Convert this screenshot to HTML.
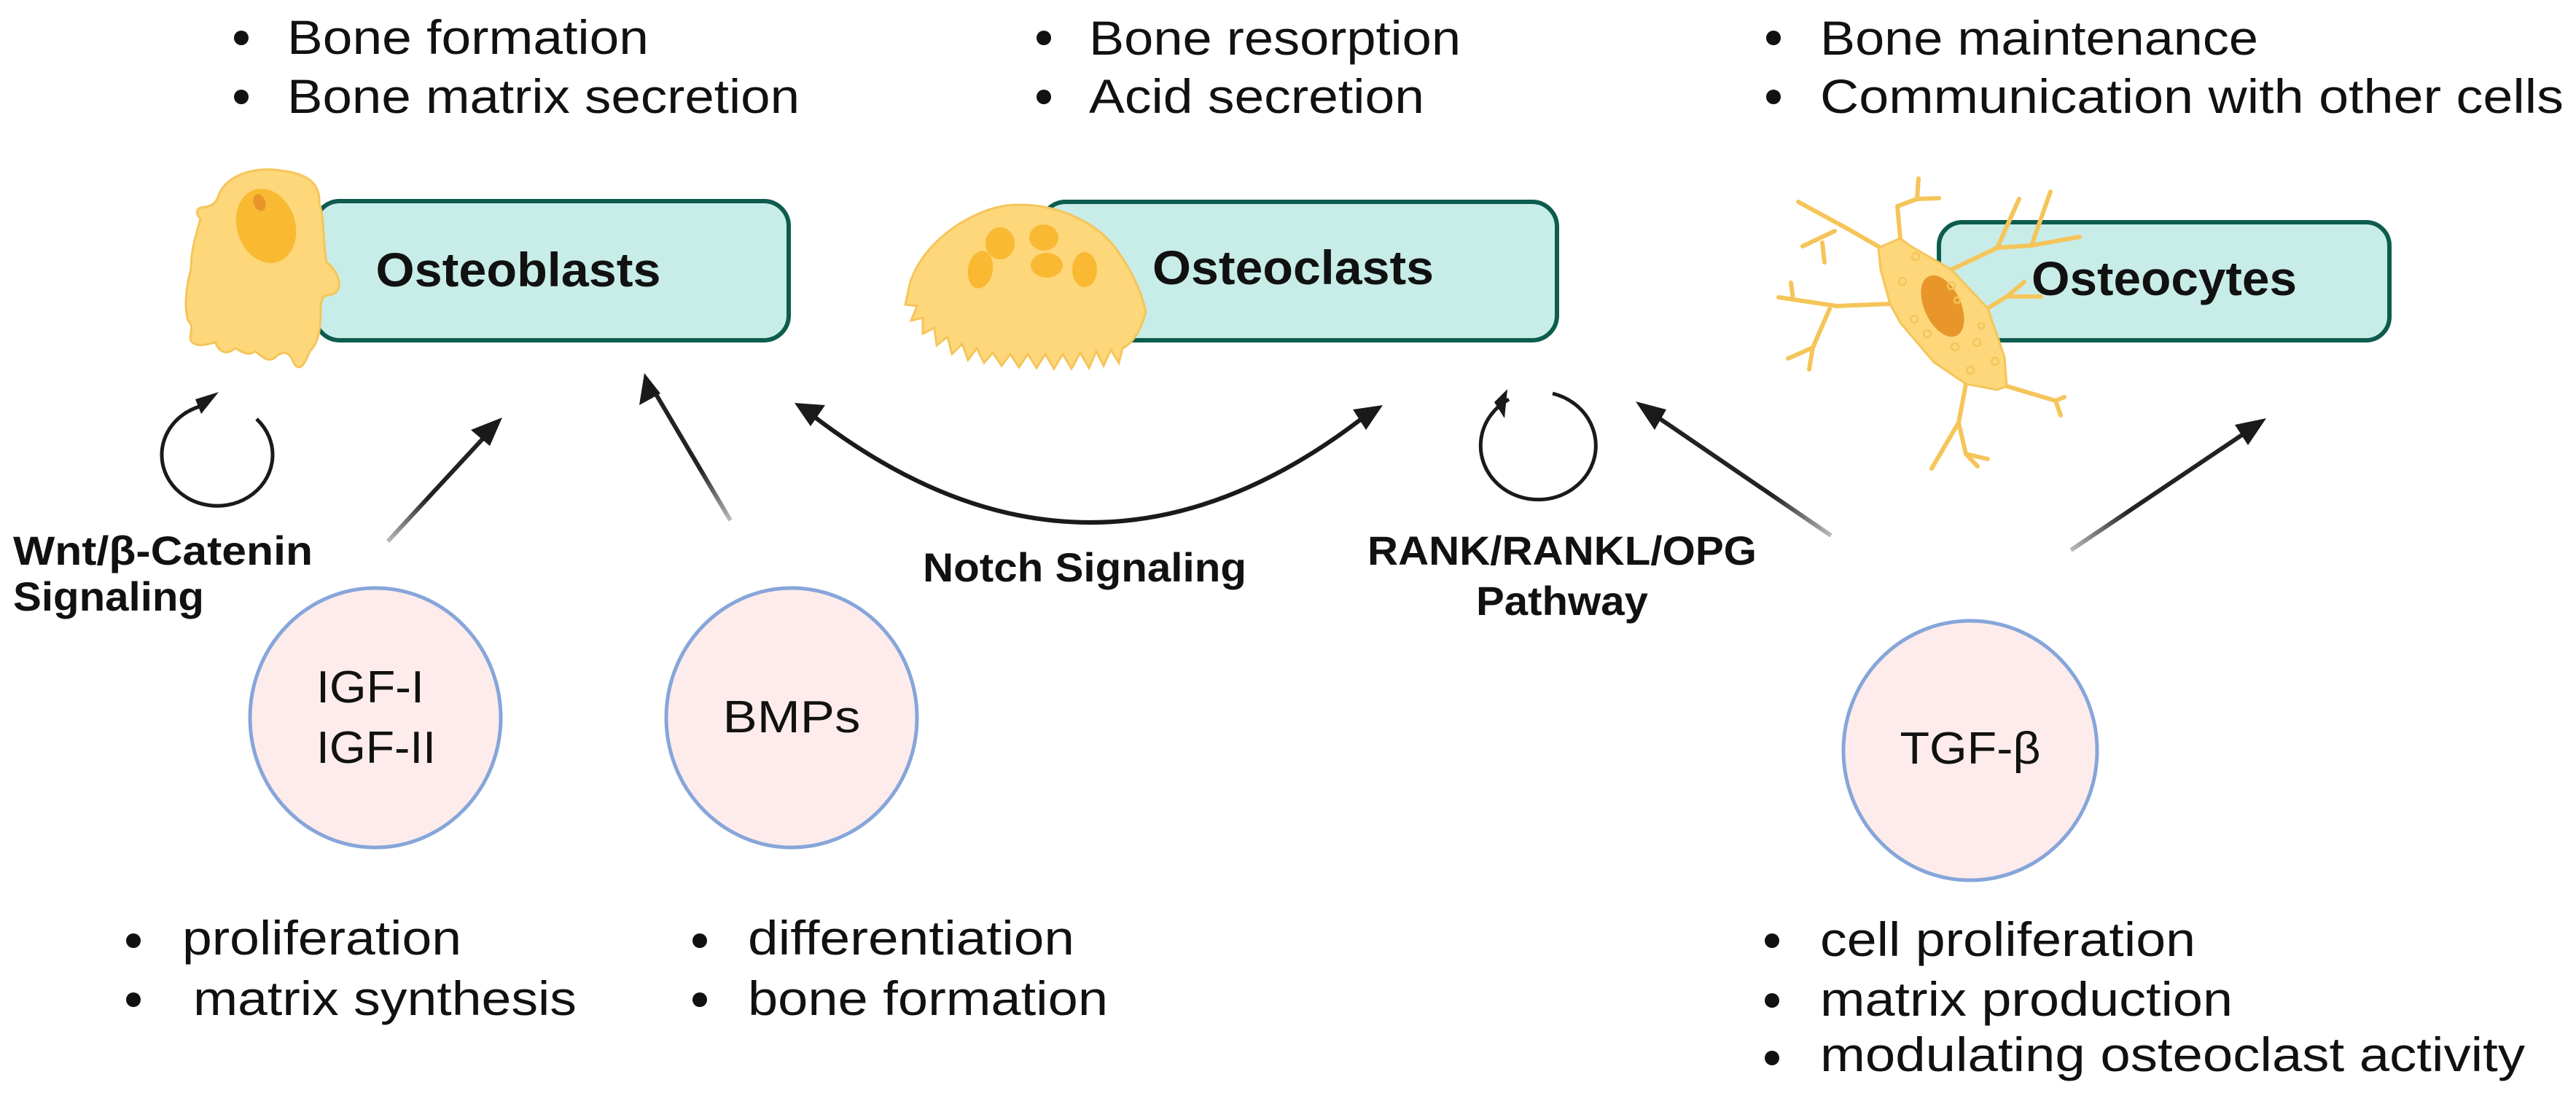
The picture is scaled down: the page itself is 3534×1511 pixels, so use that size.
<!DOCTYPE html>
<html><head><meta charset="utf-8"><style>
html,body{margin:0;padding:0;background:#fff;}
svg{display:block;}
text{font-family:"Liberation Sans",sans-serif;fill:#111;}
.b{font-weight:bold;}
</style></head><body>
<svg width="3534" height="1511" viewBox="0 0 3534 1511" xmlns="http://www.w3.org/2000/svg">
<defs>
<marker id="ah" markerWidth="8" markerHeight="8" refX="6" refY="4" orient="auto" markerUnits="strokeWidth"><path d="M0,0.5 L7,4 L0,7.5 z" fill="#1a1a1a"/></marker>
<linearGradient id="g1" gradientUnits="userSpaceOnUse" x1="532" y1="743" x2="689" y2="573"><stop offset="0" stop-color="#bbb"/><stop offset="0.35" stop-color="#222"/></linearGradient>
<linearGradient id="g2" gradientUnits="userSpaceOnUse" x1="1002" y1="714" x2="884" y2="512"><stop offset="0" stop-color="#bbb"/><stop offset="0.35" stop-color="#222"/></linearGradient>
<linearGradient id="g3" gradientUnits="userSpaceOnUse" x1="2512" y1="735" x2="2244" y2="551"><stop offset="0" stop-color="#bbb"/><stop offset="0.3" stop-color="#222"/></linearGradient>
<linearGradient id="g4" gradientUnits="userSpaceOnUse" x1="2841" y1="755" x2="3109" y2="574"><stop offset="0" stop-color="#bbb"/><stop offset="0.3" stop-color="#222"/></linearGradient>
</defs>

<!-- top bullets -->
<g font-size="66">
<circle cx="331" cy="52" r="10" fill="#111"/><text x="394" y="74" textLength="496" lengthAdjust="spacingAndGlyphs">Bone formation</text>
<circle cx="331" cy="133" r="10" fill="#111"/><text x="394" y="155" textLength="703" lengthAdjust="spacingAndGlyphs">Bone matrix secretion</text>
<circle cx="1432" cy="52" r="10" fill="#111"/><text x="1494" y="75" textLength="510" lengthAdjust="spacingAndGlyphs">Bone resorption</text>
<circle cx="1432" cy="133" r="10" fill="#111"/><text x="1494" y="155" textLength="460" lengthAdjust="spacingAndGlyphs">Acid secretion</text>
<circle cx="2433" cy="52" r="10" fill="#111"/><text x="2497" y="75" textLength="601" lengthAdjust="spacingAndGlyphs">Bone maintenance</text>
<circle cx="2433" cy="133" r="10" fill="#111"/><text x="2497" y="155" textLength="1020" lengthAdjust="spacingAndGlyphs">Communication with other cells</text>
</g>

<!-- boxes -->
<rect x="432" y="276" width="650" height="191" rx="34" fill="#c8ede8" stroke="#0d5c4e" stroke-width="6"/>
<rect x="1428" y="277" width="708" height="190" rx="34" fill="#c8ede8" stroke="#0d5c4e" stroke-width="6"/>
<rect x="2660" y="305" width="618" height="162" rx="32" fill="#c8ede8" stroke="#0d5c4e" stroke-width="6"/>

<!-- osteoblast cell -->
<g>
<path d="M300,268 C310,240 350,228 385,234 C420,238 440,250 438,280 C446,300 442,330 448,360 C462,370 472,392 460,402 C450,408 442,400 440,420 C440,450 438,470 425,482 C418,500 412,510 404,500 C398,485 392,480 380,488 C370,500 360,490 350,482 C340,490 332,482 322,478 C310,490 298,480 296,470 C285,472 270,478 262,468 C258,460 268,450 258,440 C252,420 256,390 262,370 C262,340 270,320 275,300 C268,294 268,284 282,284 C290,282 296,280 300,268 Z" fill="#fdd77a" stroke="#f5c55a" stroke-width="3"/>
<ellipse cx="365" cy="310" rx="40" ry="52" transform="rotate(-18 365 310)" fill="#f9b933"/>
<ellipse cx="356" cy="278" rx="8" ry="12" transform="rotate(-20 356 278)" fill="#e8962a"/>
</g>

<!-- osteoclast cell -->
<g>
<path d="M1248,390 C1262,340 1320,292 1380,282 C1440,276 1500,300 1530,340 C1552,370 1566,400 1572,428 C1566,450 1556,470 1540,478 L1535,498 L1524,480 L1514,502 L1504,482 L1494,505 L1482,484 L1470,506 L1458,486 L1446,506 L1434,486 L1422,505 L1410,486 L1398,504 L1386,486 L1374,502 L1362,484 L1350,498 L1340,478 L1328,494 L1320,472 L1306,486 L1300,462 L1285,474 L1282,450 L1266,458 L1266,436 L1250,440 L1258,420 L1242,418 Z" fill="#fdd77a" stroke="#f5c55a" stroke-width="3"/>
<ellipse cx="1345" cy="370" rx="17" ry="26" transform="rotate(10 1345 370)" fill="#f9b933"/>
<ellipse cx="1372" cy="334" rx="20" ry="22" fill="#f9b933"/>
<ellipse cx="1432" cy="326" rx="20" ry="18" fill="#f9b933"/>
<ellipse cx="1436" cy="364" rx="22" ry="17" fill="#f9b933"/>
<ellipse cx="1488" cy="370" rx="17" ry="24" fill="#f9b933"/>
</g>

<!-- osteocyte cell -->
<g fill="none" stroke="#f5c55a" stroke-width="6" stroke-linecap="round" stroke-linejoin="round">
<path d="M2580,340 L2533,313 L2467,277"/>
<path d="M2517,317 L2473,338"/><path d="M2500,333 L2503,360"/>
<path d="M2607,327 L2603,283 L2630,273 L2632,245"/><path d="M2630,273 L2660,272"/>
<path d="M2593,417 L2520,420 L2440,408"/><path d="M2457,388 L2460,410"/>
<path d="M2510,424 L2487,477 L2482,507"/><path d="M2487,477 L2453,492"/>
<path d="M2677,370 L2740,340 L2770,273"/><path d="M2740,340 L2787,337 L2853,325"/><path d="M2787,337 L2813,263"/>
<path d="M2727,423 L2753,407 L2777,387"/><path d="M2753,407 L2800,407"/>
<path d="M2697,527 L2687,580 L2650,643"/><path d="M2687,580 L2697,623 L2727,630"/><path d="M2697,623 L2713,640"/>
<path d="M2753,530 L2820,550 L2827,570"/><path d="M2820,550 L2832,545"/>
</g>
<path d="M2577,340 L2607,327 L2620,337 L2677,370 L2727,423 L2750,490 L2753,530 L2740,535 L2697,527 L2653,497 L2607,443 L2593,417 L2580,370 Z" fill="#fdd77a" stroke="#f5c55a" stroke-width="3"/>
<ellipse cx="2665" cy="420" rx="25" ry="45" transform="rotate(-25 2665 420)" fill="#e8962a"/>
<g fill="none" stroke="#f5c55a" stroke-width="2.5">
<circle cx="2628" cy="352" r="5"/><circle cx="2610" cy="386" r="5"/><circle cx="2677" cy="392" r="5"/><circle cx="2685" cy="412" r="4"/><circle cx="2626" cy="438" r="5"/><circle cx="2644" cy="458" r="5"/><circle cx="2682" cy="476" r="5"/><circle cx="2712" cy="470" r="5"/><circle cx="2737" cy="496" r="5"/><circle cx="2703" cy="508" r="5"/><circle cx="2718" cy="447" r="4"/>
</g>

<!-- box labels -->
<text class="b" x="711" y="393" font-size="66" text-anchor="middle" textLength="391" lengthAdjust="spacingAndGlyphs">Osteoblasts</text>
<text class="b" x="1774" y="390" font-size="66" text-anchor="middle" textLength="386" lengthAdjust="spacingAndGlyphs">Osteoclasts</text>
<text class="b" x="2969" y="405" font-size="66" text-anchor="middle" textLength="364" lengthAdjust="spacingAndGlyphs">Osteocytes</text>

<!-- loops -->
<path d="M352,575 A76,70 0 1 1 281,556" fill="none" stroke="#1a1a1a" stroke-width="5"/>
<path d="M268,548 L300,538 L276,568 Z" fill="#1a1a1a"/>
<path d="M2130,540 A79,74 0 1 1 2070,548" fill="none" stroke="#1a1a1a" stroke-width="5"/>
<path d="M2050,552 L2068,534 L2064,574 Z" fill="#1a1a1a"/>

<!-- straight arrows -->
<line x1="532" y1="743" x2="668" y2="596" stroke="url(#g1)" stroke-width="6"/>
<path d="M689,573 L646,590 L672,612 Z" fill="#1a1a1a"/>
<line x1="1002" y1="714" x2="897" y2="536" stroke="url(#g2)" stroke-width="6"/>
<path d="M884,512 L877,556 L906,540 Z" fill="#1a1a1a"/>
<line x1="2512" y1="735" x2="2266" y2="567" stroke="url(#g3)" stroke-width="6"/>
<path d="M2244,551 L2270,590 L2286,562 Z" fill="#1a1a1a"/>
<line x1="2841" y1="755" x2="3086" y2="590" stroke="url(#g4)" stroke-width="6"/>
<path d="M3109,574 L3066,583 L3084,611 Z" fill="#1a1a1a"/>

<!-- notch curve -->
<path d="M1112,568 Q1495,865 1874,570" fill="none" stroke="#1a1a1a" stroke-width="6"/>
<path d="M1090,553 L1132,556 L1112,585 Z" fill="#1a1a1a"/>
<path d="M1897,556 L1874,590 L1856,562 Z" fill="#1a1a1a"/>

<!-- pathway labels -->
<g class="b" font-size="56" font-weight="bold">
<text x="18" y="775" textLength="411" lengthAdjust="spacingAndGlyphs" font-weight="bold">Wnt/β-Catenin</text>
<text x="18" y="838" textLength="262" lengthAdjust="spacingAndGlyphs" font-weight="bold">Signaling</text>
<text x="1266" y="798" textLength="444" lengthAdjust="spacingAndGlyphs" font-weight="bold">Notch Signaling</text>
<text x="2143" y="775" text-anchor="middle" textLength="534" lengthAdjust="spacingAndGlyphs" font-weight="bold">RANK/RANKL/OPG</text>
<text x="2143" y="844" text-anchor="middle" textLength="236" lengthAdjust="spacingAndGlyphs" font-weight="bold">Pathway</text>
</g>

<!-- circles -->
<g fill="#fdeceb" stroke="#86a6da" stroke-width="5">
<ellipse cx="515" cy="985" rx="172" ry="178"/>
<ellipse cx="1086" cy="985" rx="172" ry="178"/>
<ellipse cx="2703" cy="1030" rx="174" ry="178"/>
</g>
<g font-size="62">
<text x="508" y="964" text-anchor="middle" textLength="148" lengthAdjust="spacingAndGlyphs">IGF-I</text>
<text x="516" y="1047" text-anchor="middle" textLength="164" lengthAdjust="spacingAndGlyphs">IGF-II</text>
<text x="1086" y="1005" text-anchor="middle" textLength="189" lengthAdjust="spacingAndGlyphs">BMPs</text>
<text x="2703" y="1048" text-anchor="middle" textLength="193" lengthAdjust="spacingAndGlyphs">TGF-β</text>
</g>

<!-- bottom bullets -->
<g font-size="66">
<circle cx="183" cy="1291" r="10" fill="#111"/><text x="250" y="1310" textLength="383" lengthAdjust="spacingAndGlyphs">proliferation</text>
<circle cx="183" cy="1372" r="10" fill="#111"/><text x="265" y="1393" textLength="526" lengthAdjust="spacingAndGlyphs">matrix synthesis</text>
<circle cx="960" cy="1291" r="10" fill="#111"/><text x="1026" y="1310" textLength="448" lengthAdjust="spacingAndGlyphs">differentiation</text>
<circle cx="960" cy="1372" r="10" fill="#111"/><text x="1026" y="1393" textLength="494" lengthAdjust="spacingAndGlyphs">bone formation</text>
<circle cx="2431" cy="1291" r="10" fill="#111"/><text x="2497" y="1312" textLength="515" lengthAdjust="spacingAndGlyphs">cell proliferation</text>
<circle cx="2431" cy="1373" r="10" fill="#111"/><text x="2497" y="1394" textLength="566" lengthAdjust="spacingAndGlyphs">matrix production</text>
<circle cx="2431" cy="1452" r="10" fill="#111"/><text x="2497" y="1470" textLength="967" lengthAdjust="spacingAndGlyphs">modulating osteoclast activity</text>
</g>
</svg>
</body></html>
